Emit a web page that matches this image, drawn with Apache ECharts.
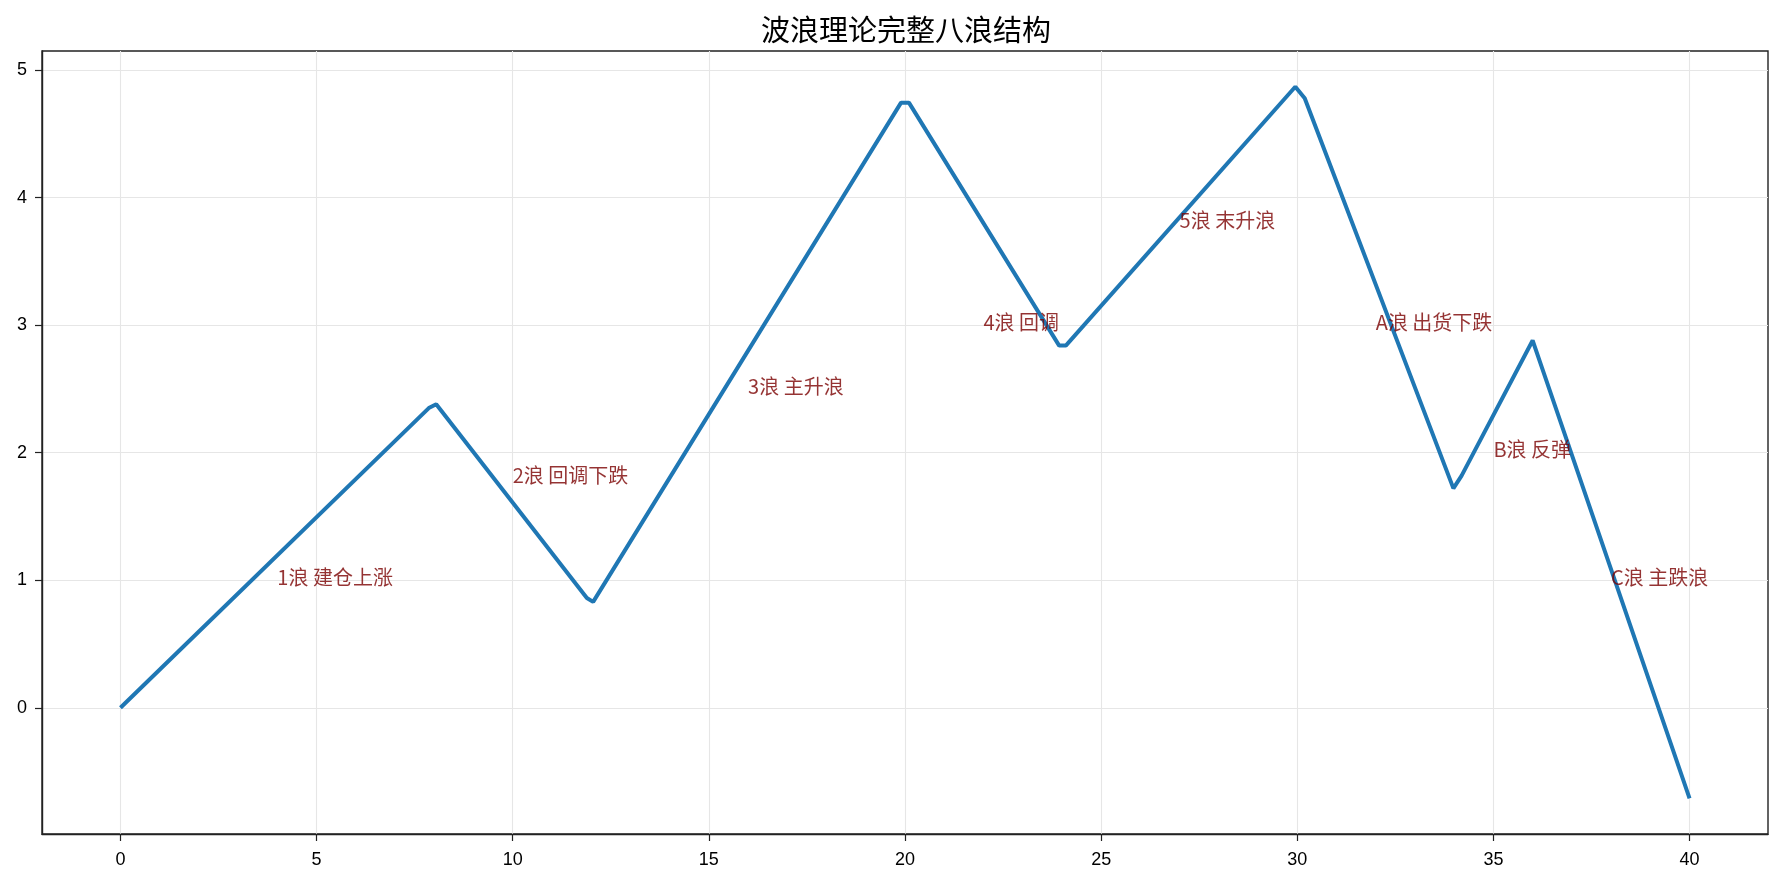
<!DOCTYPE html>
<html>
<head>
<meta charset="utf-8">
<script src="https://cdn.jsdelivr.net/npm/echarts@6/dist/echarts.min.js"></script>
<style>html,body{margin:0;padding:0;background:#fff}#c{width:1785px;height:885px}</style>
</head>
<body>
<div id="c"></div>
<script>
// Wave path (x, y)
const waveX = [0, 7.86, 8.05, 11.89, 12.05, 19.9, 20.1, 23.93, 24.1, 29.95, 30.19, 33.98, 34.19, 36.0, 36.2, 40];
const waveY = [0, 2.35, 2.38, 0.86, 0.83, 4.745, 4.745, 2.84, 2.84, 4.87, 4.78, 1.72, 1.82, 2.88, 2.70, -0.71];
// Annotations
const labelX = [4, 10, 16, 22, 27, 32, 35, 38];
const labelY = [1.0, 1.8, 2.5, 3.0, 3.8, 3.0, 2.0, 1.0];
const labelText = ['1浪 建仓上涨', '2浪 回调下跌', '3浪 主升浪', '4浪 回调', '5浪 末升浪', 'A浪 出货下跌', 'B浪 反弹', 'C浪 主跌浪'];
// Ticks
const xTicks = [0, 5, 10, 15, 20, 25, 30, 35, 40];
const yTicks = [0, 1, 2, 3, 4, 5];

const FONT = '"Liberation Sans", "Noto Sans CJK SC", sans-serif';
const chart = echarts.init(document.getElementById('c'), null, {renderer: 'canvas'});
const gridLine = {show: true, lineStyle: {color: '#e6e6e6', width: 1.1}};
chart.setOption({
  animation: false,
  backgroundColor: '#fff',
  title: {
    text: '波浪理论完整八浪结构',
    left: 901, top: 10, textAlign: 'center',
    textStyle: {fontFamily: '"Noto Sans CJK SC", sans-serif', fontWeight: 'normal', fontSize: 29, color: '#000'}
  },
  grid: {left: 42, right: 17, top: 51, bottom: 51, show: true, borderColor: '#222', borderWidth: 1.4, backgroundColor: 'transparent'},
  xAxis: {
    type: 'value', min: -2, max: 42,
    axisLine: {show: true, onZero: false, lineStyle: {color: '#222', width: 1.4}},
    axisTick: {show: true, length: 7, lineStyle: {color: '#222', width: 1.2}, customValues: xTicks},
    axisLabel: {show: true, customValues: xTicks, color: '#000', fontSize: 18, fontFamily: FONT, margin: 17},
    splitLine: gridLine
  },
  yAxis: {
    type: 'value', min: -0.99, max: 5.15,
    axisLine: {show: true, onZero: false, lineStyle: {color: '#222', width: 1.4}},
    axisTick: {show: true, length: 7, lineStyle: {color: '#222', width: 1.2}, customValues: yTicks},
    axisLabel: {show: true, customValues: yTicks, color: '#000', fontSize: 18, fontFamily: FONT, margin: 15},
    splitLine: gridLine
  },
  series: [
    {
      type: 'line',
      data: waveX.map((x, i) => [x, waveY[i]]),
      showSymbol: false,
      lineStyle: {color: '#1f77b4', width: 4},
      itemStyle: {color: '#1f77b4'},
      z: 3, silent: true
    },
    {
      type: 'scatter',
      data: labelX.map((x, i) => [x, labelY[i], labelText[i]]),
      symbolSize: 0,
      itemStyle: {color: 'rgba(0,0,0,0)'},
      silent: true,
      z: 4,
      label: {
        show: true,
        position: [0, 7],
        align: 'left',
        verticalAlign: 'bottom',
        formatter: p => p.data[2],
        color: '#7a0000',
        fontSize: 20,
        fontFamily: '"Noto Sans CJK SC", sans-serif'
      }
    }
  ]
});
</script>
</body>
</html>
